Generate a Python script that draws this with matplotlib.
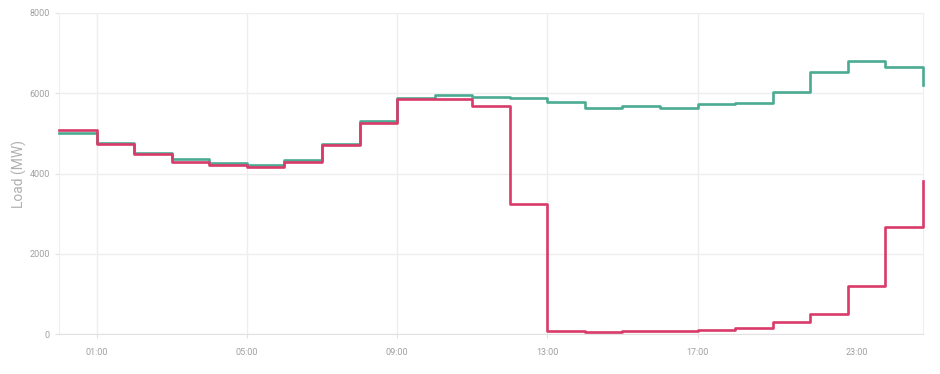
import matplotlib
matplotlib.use("Agg")
import matplotlib.pyplot as plt

plt.rcParams['font.family'] = ['Roboto', 'DejaVu Sans']

# hourly load, elapsed hours from midnight (23 hour day)
hours = list(range(24))
forecast = [5020, 4770, 4510, 4360, 4270, 4220, 4330, 4730, 5320, 5890,
            5960, 5910, 5880, 5780, 5620, 5690, 5640, 5720, 5760, 6040,
            6540, 6800, 6650, 6200]
actual = [5090, 4740, 4490, 4290, 4200, 4160, 4290, 4710, 5270, 5850,
          5850, 5690, 3250, 80, 60, 70, 85, 105, 160, 300,
          500, 1200, 2670, 3820]
tick_pos = [1, 5, 9, 13, 17, 21.25]
tick_labels = ["01:00", "05:00", "09:00", "13:00", "17:00", "23:00"]
y_ticks = [0, 2000, 4000, 6000, 8000]

fig = plt.figure(figsize=(9.4, 3.74), dpi=100)
ax = fig.add_axes([59/940, 1-334/374, (923-59)/940, (334-13)/374])

ax.step(hours, forecast, where="post", color="#4aaa92", lw=1.9, zorder=3, clip_on=False)
ax.step(hours, actual, where="post", color="#d93a69", lw=1.9, zorder=4, clip_on=False)

ax.set_xlim(0, 23)
ax.set_ylim(0, 8000)
ax.set_xticks(tick_pos)
ax.set_xticklabels(tick_labels)
ax.set_yticks(y_ticks)
ax.set_yticklabels([str(v) for v in y_ticks])

ax.grid(True, color="#eeeeee", lw=1)
ax.set_axisbelow(True)
# no gridline / tick mark for the last label
ax.xaxis.get_gridlines()[-1].set_visible(False)
ax.xaxis.get_major_ticks()[-1].tick1line.set_visible(False)

for side in ["left", "right", "top"]:
    ax.spines[side].set_color("#eeeeee")
ax.spines["bottom"].set_color("#e2e2e2")
ax.tick_params(axis="both", colors="#e2e2e2", labelcolor="#a0a0a0",
               labelsize=6.5, length=3)
ax.tick_params(axis="x", pad=7)
ax.set_ylabel("Load (MW)", color="#b0b0b0", fontsize=10, labelpad=2)

plt.savefig("out.png", dpi=100)
